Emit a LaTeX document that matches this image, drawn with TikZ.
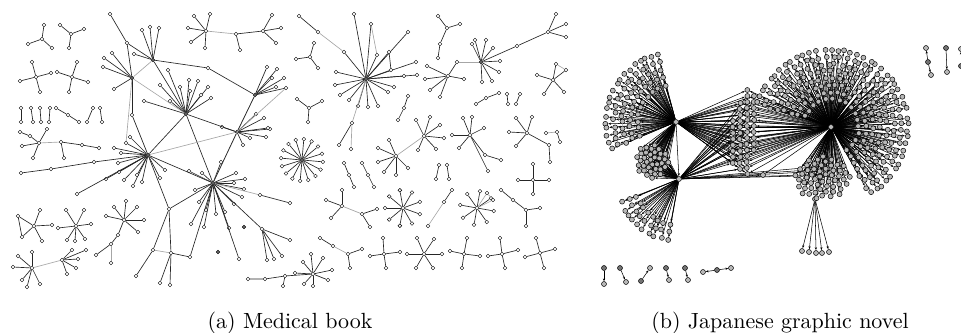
\documentclass[tikz,border=0pt]{standalone}
\usetikzlibrary{arrows.meta,calc}

\tikzset{
  mnode/.style={circle, draw=black, fill=white, inner sep=0pt, minimum size=0.6mm, line width=0.18pt},
  mhub/.style={mnode, fill=black!60},
  medge/.style={black!85, line width=0.3pt},
  mfaint/.style={black!35, line width=0.3pt},
  jghost/.style={circle, inner sep=0pt, minimum size=0.8mm},
  jnode/.style={circle, draw=black, fill=black!28, inner sep=0pt, minimum size=0.8mm, line width=0.22pt},
  jsrc/.style={jnode, fill=black!55},
  jedge/.style={black, line width=0.24pt, -{Stealth[length=0.45mm,width=0.35mm]}},
  caption/.style={anchor=base},
}

% leaves of a hub in the medical graph, as x/y pairs
\newcommand{\mleaves}[2]{%
  \foreach \x/\y [count=\i] in {#2} {
    \node[mnode] (#1-\i) at (\x,\y) {};
    \draw[medge] (#1) -- (#1-\i);
  }}

% full wheel of leaves round a hub: name, count, radius, start angle
\newcommand{\mwheel}[4]{%
  \foreach \i in {1,...,#2} {
    \node[mnode] (#1-w\i) at ($(#1)+({#4+360*\i/#2}:#3)$) {};
    \draw[medge] (#1) -- (#1-w\i);
  }}

% novel graph: nodes are placed as ghosts first and painted at the end
\newcommand{\jadd}[1]{\xdef\jlist{\jlist,#1}}

% arc of nodes: name, hub, cx, cy, radius, from, to, count
\newcommand{\jarc}[8]{%
  \foreach \k in {1,...,#8} {
    \pgfmathsetmacro{\ang}{#6+(#7-#6)*(\k-0.5)/#8+3*rnd-1.5}
    \pgfmathsetmacro{\rr}{#5+2*rnd-1}
    \node[jghost] (#1-\k) at ({#3+\rr*cos(\ang)},{#4-\rr*sin(\ang)}) {};
    \draw[jedge] (#2) -- (#1-\k);
    \jadd{#1-\k}
  }}

% ball of nodes: name, cx, cy, rx, ry, count, hubs
\newcommand{\jball}[7]{%
  \foreach \k in {1,...,#6} {
    \pgfmathsetmacro{\ang}{137.508*\k}
    \pgfmathsetmacro{\sq}{sqrt((\k-0.5)/#6)}
    \node[jghost] (#1-\k) at ({#2+#4*\sq*cos(\ang)},{#3-#5*\sq*sin(\ang)}) {};
    \foreach \h in {#7} {\draw[jedge] (\h) -- (#1-\k);}
    \jadd{#1-\k}
  }}

\begin{document}
\begin{tikzpicture}[x=0.16mm, y=-0.16mm]
\pgfmathsetseed{3}
\useasboundingbox (0,0) rectangle (961,333);

% ---------------- (a) Medical book ----------------

% Small trees, top left
\node[mnode] (t1) at (42,39) {};  \mleaves{t1}{44/25, 28/44, 52/48}
\node[mnode] (t2) at (71,34) {};  \mleaves{t2}{60/25, 84/29, 69/48}
\node[mnode] (t3) at (36,77) {};  \mleaves{t3}{32/62, 20/81, 51/73, 40/92}
\node[mnode] (t4) at (72,77) {};  \mleaves{t4}{77/62, 57/72, 88/82, 69/92}

% Pairs
\foreach \xa/\xb [count=\i] in {21/21, 31/33, 40/41, 50/49, 93/87, 100/102} {
  \node[mnode] (p\i-a) at (\xa,108) {};
  \node[mnode] (p\i-b) at (\xb,122) {};
  \draw[medge] (p\i-a) -- (p\i-b);
}
\node[mnode] (q1) at (56,108) {};
\node[mnode] (q2) at (68,115) {};
\node[mnode] (q3) at (79,122) {};
\draw[medge] (q1) -- (q2) -- (q3);

% Tree left
\node[mnode] (t5) at (39,143) {};  \mleaves{t5}{47/129, 22/146, 33/158, 30/136}
\node[mnode] (t5x) at (20,132) {};
\draw[medge] (t5-4) -- (t5x);
\node[mnode] (t6) at (61,142) {};  \mleaves{t6}{64/158, 82/145}
\node[mnode] (t6x) at (99,148) {};
\draw[mfaint] (t5) -- (t6);
\draw[medge] (t6-2) -- (t6x);

% Stars bottom left
\node[mnode] (t7) at (34,226) {};  \mleaves{t7}{18/216, 22/237, 40/210, 52/225, 42/241}
\draw[medge] (t7-1) -- (t7-2);
\node[mnode] (t8) at (76,226) {};  \mleaves{t8}{66/210, 84/210, 91/224, 85/239, 75/241, 67/240, 58/228}
\node[mnode] (t9) at (124,220) {}; \mleaves{t9}{126/201, 137/207, 144/220, 106/216, 114/207, 138/232, 118/235}
\node[mnode] (t9x) at (111,244) {};
\node[mnode] (t9y) at (96,255) {};
\node[mnode] (t9z) at (111,263) {};
\draw[medge] (t9-7) -- (t9x) -- (t9y);
\draw[mfaint] (t9x) -- (t9z);
\node[mnode] (t10) at (32,268) {}; \mleaves{t10}{18/256, 32/252, 13/267, 22/280, 27/287, 40/284}
\node[mnode] (t11) at (62,260) {}; \mleaves{t11}{72/250, 86/250, 78/259, 76/268, 67/274}
\draw[mfaint] (t10) -- (t11);

% Main component
\node[mhub] (h1) at (148,155) {};
\node[mhub] (h2) at (213,183) {};
\node[mhub] (h3) at (186,114) {};
\node[mhub] (h4) at (153,60) {};
\node[mhub] (h5) at (132,78) {};
\node[mhub] (h6) at (255,95) {};
\node[mhub] (h7) at (237,132) {};
\node[mnode] (h8) at (169,209) {};
\node[mnode] (h9) at (171,253) {};
\node[mnode] (h10) at (153,250) {};
\node[mnode] (h11) at (262,229) {};
\mleaves{h1}{130/137, 114/148, 106/179, 124/180, 133/186, 142/182, 119/172, 121/153, 126/143, 160/178, 165/170, 118/163, 137/175}
\mleaves{h2}{236/173, 245/179, 244/189, 242/197, 234/204, 225/212, 216/214, 206/210, 199/202, 189/171, 202/173, 234/183, 229/228, 204/227, 191/224, 239/259, 221/162, 195/190}
\mleaves{h3}{180/87, 189/80, 198/81, 208/87, 211/98, 190/91, 201/95, 160/85, 168/70, 144/101, 170/101}
\mleaves{h4}{142/30, 150/27, 159/28, 134/54}
\mleaves{h5}{103/67, 104/58, 112/53, 114/89, 132/115}
\mleaves{h6}{267/67, 277/69, 284/78, 276/87, 286/88, 272/78}
\mleaves{h7}{256/114, 264/118, 270/129, 266/137, 250/138, 268/128, 243/145, 222/127}
\mleaves{h9}{160/283, 170/285}
\mleaves{h10}{136/276}
\mleaves{h11}{274/259, 282/256, 267/260, 290/240}
\node[mnode] (l1) at (94,162) {};
\node[mnode] (l2) at (51,169) {};
\node[mnode] (l3) at (21,173) {};
\node[mnode] (l4) at (77,194) {};
\node[mnode] (l5) at (260,195) {};
\node[mnode] (l6) at (290,203) {};
\node[mnode] (n1) at (110,14) {};
\node[mnode] (n2) at (127,43) {};
\node[mnode] (n3) at (208,68) {};
\node[mnode] (n4) at (190,257) {};
\draw[medge] (h1) -- (l1) -- (l2) -- (l3);
\draw[medge] (h1) -- (l4);
\draw[mfaint] (h2) -- (l5);
\draw[medge] (l5) -- (l6);
\draw[medge] (n1) -- (n2) -- (h4);
\draw[medge] (n2) -- (h5);
\draw[medge] (h4) -- (n3) -- (h6);
\draw[mfaint] (h4) -- (h5);
\draw[medge] (h4) -- (h3);
\draw[mfaint] (h5) -- (h3);
\draw[medge] (h5-5) -- (h1);
\draw[medge] (h3) -- (h1);
\draw[medge] (h3) -- (h2);
\draw[medge] (h3) -- (h7);
\draw[medge] (h1) -- (h2);
\draw[mfaint] (h1) -- (h7);
\draw[medge] (h1) -- (h8) -- (h2);
\draw[medge] (h8) -- (h10);
\draw[medge] (h8) -- (h9);
\draw[mfaint] (h10) -- (h9);
\draw[medge] (h9) -- (n4) -- (h2);
\draw[mfaint] (h6) -- (h2);
\draw[medge] (h6) -- (h7);
\draw[medge] (h7) -- (h2);
\draw[mfaint] (h7) -- (h6-5);
\draw[medge] (h11) -- (h2);
\draw[mfaint] (h5) -- (h1-9);

% Isolated nodes
\node[mhub] (i1) at (244,227) {};
\node[mhub] (i2) at (218,252) {};

% Top trees
\node[mnode] (u1) at (206,31) {}; \mleaves{u1}{194/16, 210/14, 188/28, 191/42, 205/48}
\node[mnode] (u2) at (236,34) {}; \mleaves{u2}{240/50}
\node[mnode] (u3) at (263,31) {}; \mleaves{u3}{272/15, 281/28, 276/43}
\draw[mfaint] (u1) -- (u2);
\draw[medge] (u2) -- (u3);

% Second large component
\node[mhub] (h12) at (366,79) {};
\mleaves{h12}{354/14, 371/24, 408/32, 416/62, 417/75, 394/87, 388/92, 378/106, 368/107, 358/106, 349/100, 340/95, 335/85, 336/72, 377/55, 389/52, 391/70, 404/76}
\draw[mfaint] (h12-15) -- (h12-2);
\draw[medge] (h12-16) -- (h12-17);
\node[mnode] (v1) at (299,16) {};
\node[mnode] (v2) at (318,32) {};
\node[mnode] (v3) at (344,52) {};
\draw[medge] (v1) -- (v2);
\draw[mfaint] (v2) -- (v3);
\draw[medge] (v3) -- (h12);
\node[mnode] (n5) at (352,123) {};
\node[mnode] (n6) at (339,145) {};
\node[mnode] (n7) at (351,149) {};
\draw[mfaint] (h12) -- (n5);
\draw[medge] (n5) -- (n6);
\draw[mfaint] (n5) -- (n7);

% Small trees, right
\node[mnode] (s1) at (310,57) {};  \mleaves{s1}{314/43, 296/59, 318/68}
\node[mnode] (s2) at (309,108) {}; \mleaves{s2}{297/99, 322/101, 308/122}
\node[mnode] (s3) at (447,28) {};  \mleaves{s3}{438/16, 460/24, 440/44}
\node[mnode] (w1) at (438,58) {};
\draw[medge] (s3-3) -- (w1);
\node[mhub] (s4) at (481,62) {};  \mleaves{s4}{475/40, 486/40, 493/48, 500/61, 499/72, 492/81, 482/82, 472/44}
\node[mnode] (w2) at (517,46) {};
\node[mnode] (s4b) at (548,32) {}; \mleaves{s4b}{556/14, 566/24, 566/37}
\draw[medge] (s4) -- (w2) -- (s4b);
\node[mnode] (s5) at (448,76) {};  \mleaves{s5}{427/66, 425/79, 430/90, 440/97, 464/79, 457/62}
\draw[mfaint] (s5-6) -- (s4);
\node[mnode] (s6) at (553,80) {};  \mleaves{s6}{537/75, 556/64, 566/70, 564/92, 544/94}
\draw[mfaint] (s6-2) -- (s6-3);
\node[mnode] (k1) at (476,104) {};
\node[mnode] (k2) at (486,98) {};
\node[mnode] (k3) at (499,93) {};
\draw[medge] (k1) -- (k2) -- (k3);
\node[mnode] (k4) at (507,94) {};
\node[mnode] (k5) at (508,104) {};
\node[mnode] (k6) at (520,94) {};
\node[mnode] (k7) at (516,104) {};
\draw[medge] (k4) -- (k5);
\draw[medge] (k6) -- (k7);
\node[mnode] (k8) at (408,96) {};
\node[mnode] (k9) at (404,108) {};
\node[mnode] (k10) at (398,120) {};
\draw[medge] (k8) -- (k9) -- (k10);

\node[mhub] (r1) at (302,160) {};  \mwheel{r1}{16}{21}{5}

\node[mnode] (s7) at (424,136) {}; \mleaves{s7}{416/120, 430/117, 440/125, 444/138, 436/149, 418/150}
\node[mnode] (s8) at (396,156) {}; \mleaves{s8}{389/140, 378/148, 378/162, 384/172, 396/175, 408/168}
\draw[mfaint] (s7) -- (s8);
\node[mnode] (s9) at (470,135) {}; \mleaves{s9}{463/118, 472/117, 484/128, 452/135, 459/148, 488/171, 485/155}
\node[mnode] (w3) at (501,160) {};
\draw[medge] (s9-7) -- (w3);
\node[mnode] (s10) at (527,133) {}; \mleaves{s10}{516/118, 532/117, 509/132, 516/146, 549/145}
\node[mnode] (w4) at (550,162) {};
\draw[medge] (s10-5) -- (w4);
\node[mnode] (k11) at (546,133) {};
\node[mnode] (k12) at (557,132) {};
\node[mnode] (k13) at (560,142) {};
\draw[mfaint] (k11) -- (k12);
\draw[medge] (k12) -- (k13);

\foreach \xa/\xb/\xc [count=\i] in {344/349/354, 362/368/374} {
  \node[mnode] (m\i-a) at (\xa,163) {};
  \node[mnode] (m\i-b) at (\xb,175) {};
  \node[mnode] (m\i-c) at (\xc,187) {};
  \draw[medge] (m\i-a) -- (m\i-b) -- (m\i-c);
}
\foreach \xa/\xb [count=\i] in {439/436, 447/449} {
  \node[mnode] (o\i-a) at (\xa,165) {};
  \node[mnode] (o\i-b) at (\xb,179) {};
  \draw[medge] (o\i-a) -- (o\i-b);
}
\node[mnode] (x1) at (533,180) {}; \mleaves{x1}{533/164, 518/180, 549/180, 533/194}

\node[mnode] (s11) at (342,206) {}; \mleaves{s11}{342/190, 326/200, 331/218}
\node[mnode] (s12) at (362,214) {}; \mleaves{s12}{377/209, 370/227}
\draw[mfaint] (s11) -- (s12);
\node[mnode] (s13) at (403,208) {}; \mwheel{s13}{9}{18}{20}
\node[mnode] (k14) at (452,190) {};
\node[mnode] (k15) at (444,202) {};
\node[mnode] (k16) at (428,226) {};
\draw[medge] (k14) -- (k15);
\draw[mfaint] (k15) -- (k16);
\node[mnode] (s14) at (477,208) {}; \mwheel{s14}{8}{17}{10}
\node[mnode] (k17) at (487,193) {};
\node[mnode] (k18) at (493,200) {};
\draw[mfaint] (s14) -- (k17) -- (k18) -- (s14);
\node[mnode] (k19) at (501,190) {};
\node[mnode] (k20) at (513,200) {};
\node[mnode] (s15) at (526,210) {}; \mleaves{s15}{540/208, 526/226}
\draw[medge] (k19) -- (k20) -- (s15);

% Bottom row
\node[mnode] (k21) at (320,238) {};
\node[mnode] (k22) at (333,246) {};
\node[mnode] (s16) at (348,254) {}; \mleaves{s16}{362/249, 350/268}
\draw[medge] (k21) -- (k22);
\draw[mfaint] (k22) -- (s16);
\node[mnode] (x2) at (384,254) {}; \mleaves{x2}{383/238, 370/256, 400/252, 386/268}
\node[mnode] (s17) at (424,254) {}; \mleaves{s17}{417/238, 434/239, 407/254, 442/254, 416/268, 433/268}
\node[mnode] (x3) at (464,254) {}; \mleaves{x3}{467/238, 450/251, 480/256, 462/268}
\node[mnode] (x4) at (502,254) {}; \mleaves{x4}{500/238, 488/256, 518/250, 505/268}
\node[mnode] (x5) at (540,253) {}; \mleaves{x5}{536/238, 525/257, 555/249, 544/268}
\node[mnode] (s18) at (313,274) {}; \mleaves{s18}{311/254, 323/258, 332/270, 328/280, 313/286, 304/284, 295/273, 303/262}
\node[mnode] (k23) at (248,279) {};
\node[mnode] (k24) at (265,279) {};
\node[mnode] (k25) at (285,276) {};
\node[mnode] (k26) at (283,286) {};
\draw[medge] (k23) -- (k24) -- (k25) -- (s18);
\draw[medge] (k25) -- (k26);

% ---------------- (b) Japanese graphic novel ----------------

\gdef\jlist{b1,b2,b3,e1,g0}
\node[jghost] (b1) at (676,122) {};
\node[jghost] (b2) at (679,179) {};
\node[jghost] (b3) at (831,127) {};
\draw[jedge] (b1) -- (b2);

% Fans
\foreach \rad/\cnt in {38/10, 46/13, 54/15, 62/17, 70/19} {
  \jarc{fa\rad}{b1}{676}{122}{\rad}{102}{205}{\cnt}
}
\foreach \rad/\cnt in {46/8, 54/9, 62/10} {
  \jarc{fb\rad}{b2}{679}{179}{\rad}{200}{262}{\cnt}
}
\jball{ga}{652}{161}{17}{17}{36}{b2,b1}

% Middle column
\foreach \c/\x/\ya/\cnt in {1/747/90/15, 2/740/103/12, 3/754/96/10, 4/733/121/8} {
  \foreach \k in {1,...,\cnt} {
    \node[jghost] (c\c-\k) at ({\x+rnd-0.5},{\ya+6*(\k-1)}) {};
    \draw[jedge] (b1) -- (c\c-\k);
    \draw[jedge] (b3) -- (c\c-\k);
    \ifodd\k\relax\else\draw[jedge] (b2) -- (c\c-\k);\fi
    \jadd{c\c-\k}
  }
}
\node[jghost] (e1) at (763,175) {};
\draw[jedge] (b2) -- (e1);
\draw[jedge] (b3) -- (e1);

% Large hub
\foreach \rad/\cnt in {28/16, 35/20, 42/24, 49/28, 56/32, 63/36, 70/40, 77/44} {
  \jarc{d\rad}{b3}{831}{127}{\rad}{-62}{165}{\cnt}
}
\jball{gb}{822}{178}{28}{22}{55}{b3}
\foreach \k in {3,8,11,16,24} {\draw[jedge] (b2) -- (gb-\k);}

% Bottom fan
\node[jghost] (g0) at (815,199) {};
\draw[jedge] (b3) -- (g0);
\foreach \x/\y [count=\i] in {802/251, 809/252, 816/253, 822/253, 829/252} {
  \node[jghost] (g0-\i) at (\x,\y) {};
  \draw[jedge] (g0) -- (g0-\i);
  \jadd{g0-\i}
}

% Paint the nodes over the edges
\foreach \n in \jlist {
  \node[jnode] (\n-dot) at (\n) {};
}

% Small components
\foreach \xa/\ya/\xb/\yb [count=\i] in {604/268/604/284, 620/268/626/282, 641/281/650/268, 666/268/669/280, 685/268/688/280, 946/48/947/72, 961/66/961/49} {
  \node[jsrc] (z\i-a) at (\xa,\ya) {};
  \node[jnode] (z\i-b) at (\xb,\yb) {};
  \draw[jedge] (z\i-a) -- (z\i-b);
}
\node[jsrc] (y1) at (717,270) {};
\node[jnode] (y1-1) at (703,272) {};
\node[jnode] (y1-2) at (731,268) {};
\draw[jedge] (y1) -- (y1-1);
\draw[jedge] (y1) -- (y1-2);
\node[jsrc] (y2) at (928,62) {};
\node[jnode] (y2-1) at (926,48) {};
\node[jnode] (y2-2) at (931,75) {};
\draw[jedge] (y2) -- (y2-1);
\draw[jedge] (y2) -- (y2-2);

% Captions
\node[caption] (capa) at (290,328) {(a) Medical book};
\node[caption] (capb) at (780,328) {(b) Japanese graphic novel};

\end{tikzpicture}
\end{document}
